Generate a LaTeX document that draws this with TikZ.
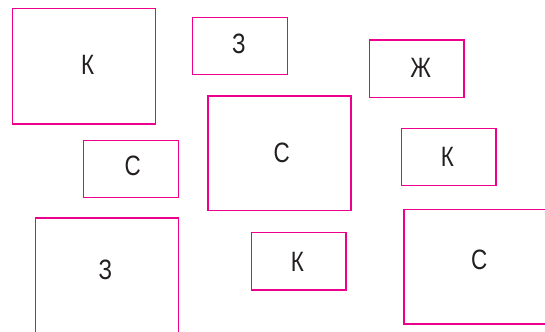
\documentclass[tikz,border=0pt]{standalone}
\usepackage{fontspec}
\setmainfont{Liberation Sans}[FakeStretch=0.8]
\definecolor{boxpink}{RGB}{236,0,140}
\definecolor{ink}{RGB}{35,31,32}
\tikzset{
  cardbox/.style={draw=boxpink, line width=1.2bp, inner sep=0pt, fill=none},
  cardlab/.style={inner sep=0pt, text=ink, font=\fontsize{28bp}{30bp}\selectfont}
}
\begin{document}
\begin{tikzpicture}[x=1bp,y=-1bp]
\useasboundingbox (0,0) rectangle (545,331);
\clip (0,0) rectangle (545,331);
% boxes: center, width, height from pixel edges
\node[cardbox, minimum width=143bp, minimum height=115.3bp] (b1) at (83.8,66.35) {};
\node[cardlab] (t1) at (87.7,64.8) {К};
\node[cardbox, minimum width=94.6bp, minimum height=57.4bp] (b2) at (240,46) {};
\node[cardlab] (t2) at (239,43.5) {З};
\node[cardbox, minimum width=94.7bp, minimum height=57.3bp] (b3) at (416.65,68.65) {};
\node[cardlab] (t3) at (420.7,68) {Ж};
\node[cardbox, minimum width=95bp, minimum height=57.4bp] (b4) at (130.8,169) {};
\node[cardlab] (t4) at (132.7,166.3) {С};
\node[cardbox, minimum width=143bp, minimum height=114.7bp] (b5) at (279.5,153.35) {};
\node[cardlab] (t5) at (281.7,153.3) {С};
\node[cardbox, minimum width=94.3bp, minimum height=57.4bp] (b6) at (448.85,157) {};
\node[cardlab] (t6) at (447.3,157.2) {К};
\node[cardbox, minimum width=143bp, minimum height=140bp] (b7) at (106.8,288) {};
\node[cardlab] (t7) at (105.3,270.3) {З};
\node[cardbox, minimum width=94.3bp, minimum height=57.7bp] (b8) at (298.85,261.15) {};
\node[cardlab] (t8) at (297.3,261.7) {К};
\node[cardbox, minimum width=160bp, minimum height=114.7bp] (b9) at (484,266.65) {};
\node[cardlab] (t9) at (479.3,259.6) {С};
\end{tikzpicture}
\end{document}
